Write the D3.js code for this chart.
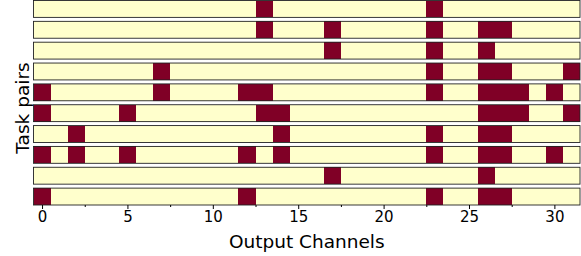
<!DOCTYPE html>
<html>
<head>
<meta charset="utf-8">
<script src="https://cdn.jsdelivr.net/npm/d3@7"></script>
<style>
  body { margin: 0; background: #fff; }
  text { font-family: "DejaVu Sans", sans-serif; }
</style>
</head>
<body>
<div id="chart"></div>
<script>
// active output channels for each task pair (top row first)
const taskPairs = ['p0', 'p1', 'p2', 'p3', 'p4', 'p5', 'p6', 'p7', 'p8', 'p9']
const nChannels = 32
const activeChannels = [
  [13, 23],
  [13, 17, 23, 26, 27],
  [17, 23, 26],
  [7, 23, 26, 27, 31],
  [0, 7, 12, 13, 23, 26, 27, 28, 30],
  [0, 5, 13, 14, 26, 27, 28, 31],
  [2, 14, 23, 26, 27],
  [0, 2, 5, 12, 14, 23, 26, 27, 30],
  [17, 26],
  [0, 12, 23, 26, 27]
]
const majorTicks = [0, 5, 10, 15, 20, 25, 30]
const minorTicks = [2.5, 7.5, 12.5, 17.5, 22.5, 27.5]

const width = 581
const height = 256
const margin = { top: 0.5, right: 1, bottom: 51, left: 33.5 }
const offColor = '#ffffcc'
const onColor = '#800026'

const svg = d3.select('#chart')
  .append('svg')
  .attr('width', width)
  .attr('height', height)

const xScale = d3.scaleLinear()
  .domain([-0.5, nChannels - 0.5])
  .range([margin.left, width - margin.right])

const yScale = d3.scaleBand()
  .domain(taskPairs)
  .range([margin.top, height - margin.bottom])
  .paddingInner(0.19)
  .paddingOuter(0)

const cells = []
taskPairs.forEach((p, i) => {
  const on = new Set(activeChannels[i])
  d3.range(nChannels).forEach(c => cells.push({ pair: p, ch: c, on: on.has(c) }))
})

svg.append('g')
  .selectAll('rect')
  .data(cells)
  .join('rect')
  .attr('x', d => xScale(d.ch - 0.5))
  .attr('y', d => yScale(d.pair))
  .attr('width', xScale(1) - xScale(0))
  .attr('height', yScale.bandwidth())
  .attr('fill', d => d.on ? onColor : offColor)
  .attr('shape-rendering', 'crispEdges')

// frame around each row (one small axes per pair)
svg.append('g')
  .selectAll('rect')
  .data(taskPairs)
  .join('rect')
  .attr('x', xScale(-0.5))
  .attr('y', d => yScale(d))
  .attr('width', xScale(nChannels - 0.5) - xScale(-0.5))
  .attr('height', yScale.bandwidth())
  .attr('fill', 'none')
  .attr('stroke', '#222')
  .attr('stroke-width', 0.9)

const axisY = height - margin.bottom

const xAxis = g => g
  .attr('transform', `translate(0,${axisY})`)
  .call(d3.axisBottom(xScale).tickValues(majorTicks).tickSize(4).tickPadding(2))
  .call(g => g.select('.domain').remove())
  .call(g => g.selectAll('text')
    .attr('font-size', 15)
    .attr('font-family', 'DejaVu Sans, sans-serif')
    .attr('fill', '#000'))

const xMinor = g => g
  .attr('transform', `translate(0,${axisY})`)
  .call(d3.axisBottom(xScale).tickValues(minorTicks).tickSize(2).tickFormat(''))
  .call(g => g.select('.domain').remove())

svg.append('g').call(xAxis)
svg.append('g').call(xMinor)

svg.append('text')
  .attr('x', (xScale(-0.5) + xScale(nChannels - 0.5)) / 2)
  .attr('y', 248)
  .attr('text-anchor', 'middle')
  .attr('font-size', 18.5)
  .text('Output Channels')

svg.append('text')
  .attr('transform', 'translate(29,108) rotate(-90)')
  .attr('text-anchor', 'middle')
  .attr('font-size', 18.5)
  .text('Task pairs')
</script>
</body>
</html>
